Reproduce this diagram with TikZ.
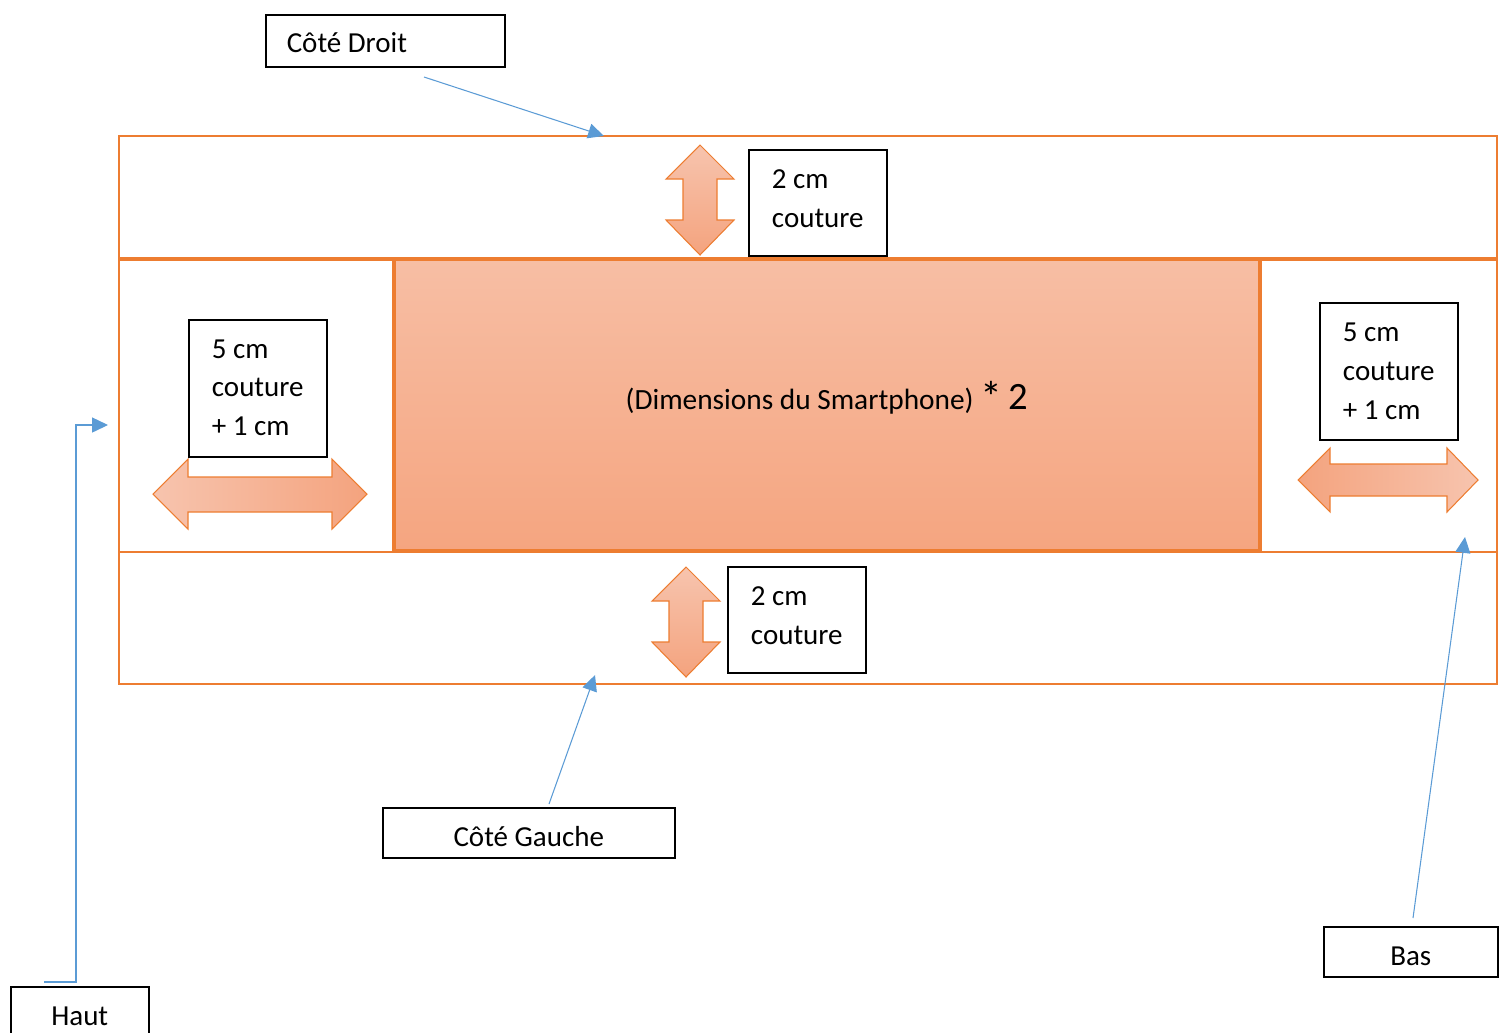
\documentclass[tikz,border=0pt]{standalone}
\usepackage{fontspec}
\setmainfont{Carlito}
\usetikzlibrary{arrows.meta}

\definecolor{seamorange}{HTML}{ED7D31}
\definecolor{linkblue}{HTML}{5B9BD5}
\definecolor{fabrictop}{RGB}{247,190,164}
\definecolor{fabricbot}{RGB}{245,165,128}
\definecolor{arrowlight}{RGB}{247,196,174}
\definecolor{arrowdark}{RGB}{244,163,126}

\begin{document}
\begin{tikzpicture}[x=0.02cm,y=-0.02cm,
  seam/.style={draw=seamorange,line width=0.8pt},
  blockarrow/.style={draw=seamorange,line width=0.6pt,line join=miter},
  notebox/.style={draw=black,fill=white,line width=0.9pt,inner sep=0pt,anchor=north west,
    font=\fontsize{16.5}{22}\selectfont,align=flush left},
  oneline/.style={text height=15.5pt,text depth=0pt},
  link/.style={draw=linkblue,line width=0.6pt,-{Triangle[length=9pt,width=8.5pt]}}]
\useasboundingbox (0,0) rectangle (1507,1032);

% Define the pieces of fabric
\draw[seam] (119,136) rectangle (1497,258);
\draw[seam] (119,260) rectangle (393,552);
\draw[seam] (1261,260) rectangle (1497,552);
\draw[seam] (119,552) rectangle (1497,684);
\draw[seam,line width=0.6pt,top color=fabrictop,bottom color=fabricbot] (395,260) rectangle (1259,550);
\node[font=\fontsize{16.7}{22}\selectfont] (phone) at (827,398)
  {(Dimensions du Smartphone) {\fontsize{25}{28}\selectfont\raisebox{-1.5pt}{*}}
   {\fontsize{22}{26}\selectfont 2}};

% Draw the seam arrows
\foreach \cx/\ty in {700/145,686/567}
  \draw[blockarrow,top color=arrowlight,bottom color=arrowdark]
    (\cx,\ty) -- ++(34,34) -- ++(-17,0) -- ++(0,41) -- ++(17,0) -- ++(-34,35)
    -- ++(-34,-35) -- ++(17,0) -- ++(0,-41) -- ++(-17,0) -- cycle;
\draw[blockarrow,left color=arrowlight,right color=arrowdark]
  (153,494) -- (188,459) -- (188,477) -- (332,477) -- (332,459) -- (367,494)
  -- (332,529) -- (332,512) -- (188,512) -- (188,529) -- cycle;
\draw[blockarrow,left color=arrowdark,right color=arrowlight]
  (1298,480) -- (1330,448) -- (1330,464) -- (1447,464) -- (1447,448) -- (1478,480)
  -- (1447,512) -- (1447,496) -- (1330,496) -- (1330,512) -- cycle;

% Draw the text boxes
\node[notebox,minimum width=4.78cm,minimum height=1.04cm,text width=3.94cm,
  text height=13pt,text depth=0pt] (droit) at (265,14) {Côté Droit};
\node[notebox,minimum width=2.76cm,minimum height=2.12cm,text depth=4.5pt] (seamtop) at (748,149) {2 cm\\couture};
\node[notebox,minimum width=2.76cm,minimum height=2.74cm,text depth=1pt] (seamleft) at (188,319) {5 cm\\couture\\+ 1 cm};
\node[notebox,minimum width=2.76cm,minimum height=2.74cm] (seamright) at (1319,302) {5 cm\\couture\\+ 1 cm};
\node[notebox,minimum width=2.76cm,minimum height=2.12cm,text depth=4.5pt] (seambot) at (727,566) {2 cm\\couture};
\node[notebox,oneline,minimum width=5.84cm,minimum height=1cm] (gauche) at (382,807) {Côté Gauche};
\node[notebox,oneline,minimum width=3.48cm,minimum height=1cm] (bas) at (1323,926) {Bas};
\node[notebox,oneline,minimum width=2.76cm,minimum height=1cm] (haut) at (10,986) {Haut};

% Draw the pointers
\coordinate (droittail) at (424,77);
\coordinate (droithead) at (604,136);
\coordinate (gauchetail) at (549,804);
\coordinate (gauchehead) at (595,675);
\coordinate (bastail) at (1413,918);
\coordinate (bashead) at (1465,537);
\coordinate (hauttail) at (44,982);
\coordinate (hautbend) at (76,425);
\coordinate (hauthead) at (108,425);
\draw[link] (droittail) -- (droithead);
\draw[link] (gauchetail) -- (gauchehead);
\draw[link] (bastail) -- (bashead);
\draw[link] (hauttail) -| (hautbend) -- (hauthead);
\end{tikzpicture}
\end{document}
